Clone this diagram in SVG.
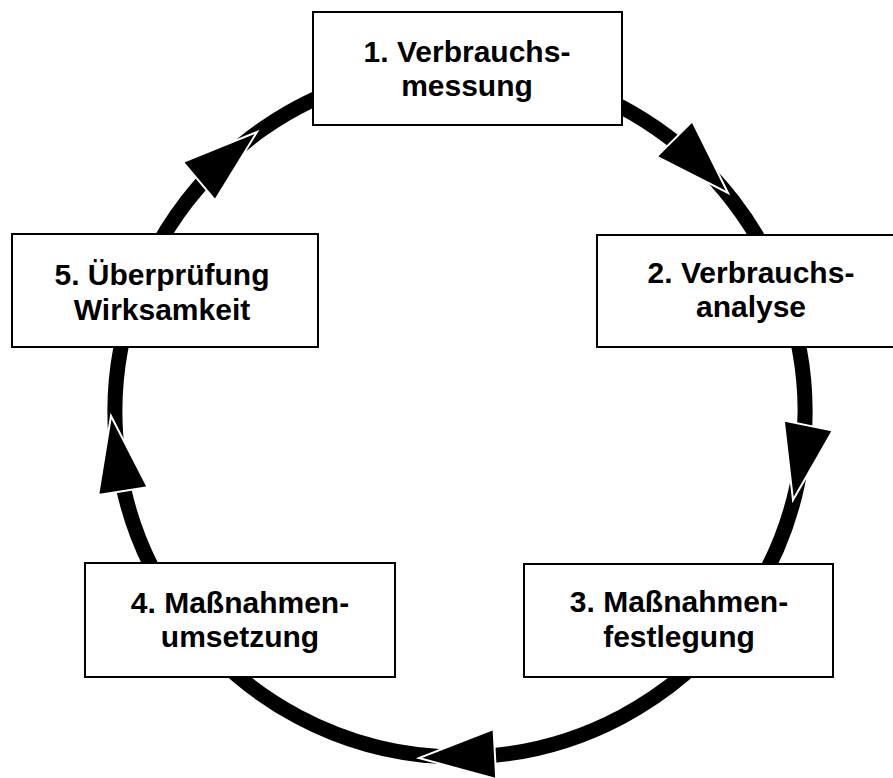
<svg xmlns="http://www.w3.org/2000/svg" width="893" height="778" viewBox="0 0 893 778">
<style>
.box{fill:#fff;stroke:#000;stroke-width:2}
.lbl{font-family:"Liberation Sans",Arial,sans-serif;font-weight:bold;font-size:30px;fill:#000;text-anchor:middle}
.arc{fill:none;stroke:#000;stroke-width:15}
.head{fill:#000;stroke:#fff;stroke-width:2;stroke-linejoin:miter}
</style>
<defs>
<polygon id="tri" points="0,0 -76,-25 -76,25"/>
</defs>
<rect width="893" height="778" fill="#fff"/>
<g id="connectors">
<path class="arc" d="M460,67 A345,345 0 0 1 782.7,290"/>
<path class="arc" d="M782.7,290 A345,345 0 0 1 735.2,620.1"/>
<path class="arc" d="M735.2,620.1 A345,345 0 0 1 184.8,620.1"/>
<path class="arc" d="M184.8,620.1 A345,345 0 0 1 137.3,290"/>
<path class="arc" d="M137.3,290 A345,345 0 0 1 460,67"/>
<use href="#tri" class="head" transform="translate(728,193) rotate(45.3)"/>
<use href="#tri" class="head" transform="translate(793,500) rotate(101.6)"/>
<use href="#tri" class="head" transform="translate(419,758) rotate(177)"/>
<use href="#tri" class="head" transform="translate(111,416) rotate(-99)"/>
<use href="#tri" class="head" transform="translate(257,132) rotate(-40.2)"/>
</g>
<g id="node1">
<rect class="box" x="313" y="12" width="309" height="113"/>
<text class="lbl" x="467" y="62">1. Verbrauchs-</text>
<text class="lbl" x="467" y="96">messung</text>
</g>
<g id="node2">
<rect class="box" x="597" y="235" width="309" height="112"/>
<text class="lbl" x="751" y="283">2. Verbrauchs-</text>
<text class="lbl" x="751" y="317">analyse</text>
</g>
<g id="node3">
<rect class="box" x="524" y="564" width="309" height="113"/>
<text class="lbl" x="679" y="612">3. Maßnahmen-</text>
<text class="lbl" x="679" y="647">festlegung</text>
</g>
<g id="node4">
<rect class="box" x="85" y="563" width="310" height="114"/>
<text class="lbl" x="240" y="613">4. Maßnahmen-</text>
<text class="lbl" x="240" y="647">umsetzung</text>
</g>
<g id="node5">
<rect class="box" x="12" y="234" width="306" height="113"/>
<text class="lbl" x="162" y="285">5. Überprüfung</text>
<text class="lbl" x="162" y="320">Wirksamkeit</text>
</g>
</svg>
